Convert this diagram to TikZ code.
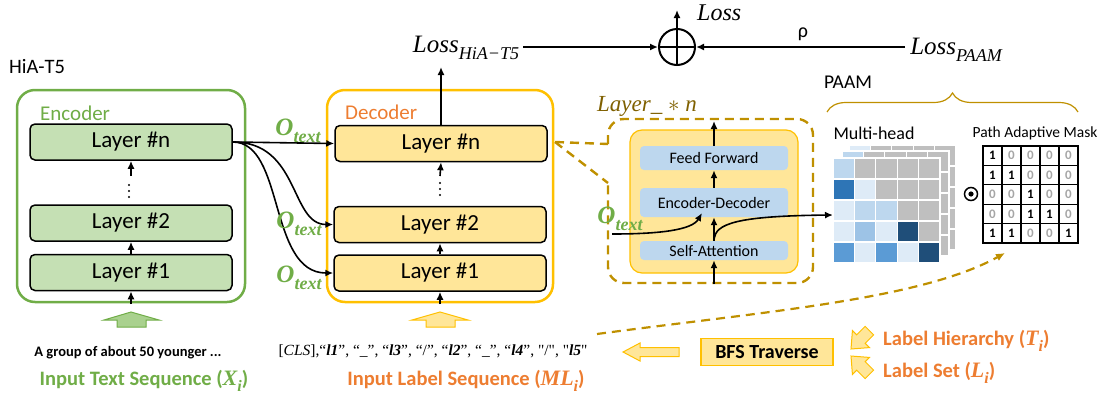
\RequirePackage{fix-cm}
\documentclass[tikz,border=0pt]{standalone}
\usepackage{amsmath}
\usepackage{fontspec}
\setmainfont{Carlito}
\newfontfamily\lsf{Liberation Serif}
\usetikzlibrary{arrows.meta,decorations.pathreplacing}
\definecolor{gEdge}{HTML}{70AD47}
\definecolor{gFill}{HTML}{C5E0B4}
\definecolor{gArrow}{HTML}{A9D18E}
\definecolor{yEdge}{HTML}{FFC000}
\definecolor{yFill}{HTML}{FFE699}
\definecolor{oText}{HTML}{ED7D31}
\definecolor{gold}{HTML}{BF9000}
\definecolor{goldText}{HTML}{7F6000}
\definecolor{bBox}{HTML}{BDD7EE}
\definecolor{mhL}{HTML}{BDD7EE}
\definecolor{mhV}{HTML}{DEEBF7}
\definecolor{mhM}{HTML}{9DC3E6}
\definecolor{mhB}{HTML}{5B9BD5}
\definecolor{mhD}{HTML}{2E75B6}
\definecolor{mhN}{HTML}{1F4E79}
\definecolor{mhG}{HTML}{BFBFBF}
\definecolor{maskZero}{HTML}{A6A6A6}
\newcommand\setfs[1]{\fontsize{#1}{#1}\selectfont}
% italic with subscript: size, subsize, base, sub
\newcommand\msub[4]{{\lsf\itshape\setfs{#1}#3\raisebox{-0.26em}{\setfs{#2}#4}}}
\newcommand\mbsub[4]{{\lsf\bfseries\itshape\setfs{#1}#3\raisebox{-0.26em}{\setfs{#2}#4}}}
\begin{document}
\begin{tikzpicture}[x=1pt,y=-1pt,
  layerE/.style={draw=black, line width=1.5pt, fill=gFill, rounded corners=5pt, minimum width=202pt, minimum height=36pt, inner sep=0pt, font=\setfs{23}},
  layerD/.style={layerE, fill=yFill, minimum width=212pt},
  arr/.style={line width=1.6pt, -{Latex[length=8pt,width=7pt]}},
  lbl/.style={inner sep=0pt},
  otext/.style={inner sep=0pt, text=gEdge},
  gdash/.style={draw=gold, line width=2.4pt, dash pattern=on 9pt off 6pt},
  subbox/.style={fill=bBox, rounded corners=4pt, minimum width=148pt, inner sep=0pt, font=\setfs{16}},
  blockY/.style={fill=yFill, draw=yEdge, line width=1pt},
  blockG/.style={fill=gArrow, draw=gEdge, line width=1pt},
  cellM/.style={draw=black, line width=1.3pt, minimum width=19pt, minimum height=19.4pt, inner sep=0pt, font=\bfseries\setfs{13}},
  cell0/.style={text=maskZero},
  cell1/.style={text=black}]
\useasboundingbox (0,0) rectangle (1105,394);

% ---------- Encoder ----------
\node[lbl, anchor=west, font=\setfs{20.5}] (hia) at (9,67) {HiA-T5};
\node[draw=gEdge, line width=2.5pt, rounded corners=18pt, minimum width=228pt, minimum height=212pt] (encbox) at (131,196) {};
\node[lbl, anchor=west, text=gEdge, font=\setfs{21}] (enclab) at (40,113) {Encoder};
\node[layerE] (en) at (131,142) {Layer \#n};
\node[layerE] (e2) at (131,223) {Layer \#2};
\node[layerE] (e1) at (131,272.5) {Layer \#1};
\coordinate (eDot) at (131,176);
\coordinate (eIn) at (131,304);
\draw[arr] (eDot) -- (en.south);
\foreach \yy in {185,191,197} \fill (129,\yy) circle (1.1pt);
\draw[arr] (e1.north) -- (e2.south);
\draw[arr] (eIn) -- (e1.south);

% ---------- Decoder ----------
\node[draw=yEdge, line width=2.5pt, rounded corners=18pt, minimum width=226pt, minimum height=212pt] (decbox) at (440,196) {};
\node[lbl, anchor=west, text=oText, font=\setfs{21}] (declab) at (345,112) {Decoder};
\node[layerD] (dn) at (441,143.5) {Layer \#n};
\node[layerD] (d2) at (440,224.5) {Layer \#2};
\node[layerD] (d1) at (440,273) {Layer \#1};
\coordinate (dDot) at (440,176);
\coordinate (dIn) at (440,304);
\draw[arr] (dDot) -- (dn.south);
\foreach \yy in {183,189,195} \fill (440,\yy) circle (1.1pt);
\draw[arr] (d1.north) -- (d2.south);
\draw[arr] (dIn) -- (d1.south);

% ---------- encoder -> decoder ----------
\draw[arr] (en.east) -- (dn.west);
\draw[arr] (en.east) .. controls (300,142) and (290,224.5) .. (d2.west);
\draw[arr] (en.east) .. controls (285,142) and (268,273) .. (d1.west);
\node[otext] (ot1) at (298,131) {\mbsub{25}{18}{O}{text}};
\node[otext] (ot2) at (299,224) {\mbsub{25}{18}{O}{text}};
\node[otext] (ot3) at (299,278) {\mbsub{25}{18}{O}{text}};

% ---------- Losses ----------
\node[lbl] (lossH) at (466,48) {\msub{25}{18}{Loss}{HiA−T5}};
\coordinate (lossHin) at (441,67);
\draw[arr] (dn.north) -- (lossHin);
\node[circle, draw, line width=2pt, minimum size=36pt, inner sep=0pt] (plus) at (677,47) {};
\draw[line width=2pt] (plus.north) -- (plus.south) (plus.west) -- (plus.east);
\draw[arr] ([xshift=4pt]lossH.east |- plus.west) -- (plus.west);
\coordinate (lossOut) at (677,10);
\draw[arr] (plus.north) -- (lossOut);
\node[lbl, anchor=west, font=\lsf\itshape\setfs{24}] (loss) at (697,13) {Loss};
\node[lbl] (lossP) at (956,50) {\msub{25}{18}{Loss}{PAAM}};
\draw[arr] ([xshift=-5pt]lossP.west |- plus.east) -- (plus.east);
\node[lbl, font=\setfs{20}] (rho) at (803,34) {ρ};

% ---------- zoomed layer ----------
\draw[gdash, rounded corners=16pt] (608,144) -- (608,119) -- (813,119) -- (813,283) -- (608,283) -- (608,183);
\coordinate (callA) at (555,142);
\draw[gdash] (callA) -- (608,144);
\draw[gdash] (callA) -- (608,183);
\node[lbl, anchor=west, text=goldText] (layn) at (597,106) {{\lsf\itshape\setfs{23}Layer\_ $\ast$ n}};
\node[fill=yFill, draw=yEdge, line width=1.2pt, rounded corners=12pt, minimum width=168pt, minimum height=143pt] (inner) at (714,201.5) {};
\node[subbox, minimum height=24pt] (ff) at (714,158) {Feed Forward};
\node[subbox, minimum height=29pt] (ed) at (714,202.5) {Encoder-Decoder};
\node[subbox, minimum height=19pt] (sa) at (714,250.5) {Self-Attention};
\coordinate (ffOut) at (714,121);
\coordinate (saIn) at (714,284);
\draw[arr] (ff.north) -- (ffOut);
\draw[arr] (ed.north) -- (ff.south);
\draw[arr] (sa.north) -- (ed.south);
\draw[arr] (saIn) -- (sa.south);
\node[otext] (ot4) at (620,219) {\mbsub{25}{18}{O}{text}};
\coordinate (otStart) at (612,234);
\coordinate (otEnd) at (702,213);
\draw[arr] (otStart) .. controls (660,234) and (692,230) .. (otEnd);
\coordinate (br) at (714,239);
\coordinate (mhIn) at (833,215);
\draw[arr] (br) .. controls (716,224) and (735,216) .. (mhIn);

% ---------- PAAM ----------
\node[lbl, font=\setfs{19.5}] (paam) at (848,82) {PAAM};
\draw[gold, line width=1.2pt, decorate, decoration={brace, amplitude=19pt}] (827,112) -- (1078,112);
\node[lbl, font=\setfs{18}] (mh) at (874,133) {Multi-head};
\node[lbl, font=\setfs{15.5}] (pam) at (1035,133) {Path Adaptive Mask};
% back layers
\foreach \ox/\oy/\tl in {849/145/mhV, 842/151/mhL} {
  \foreach \rr in {0,...,4} \foreach \cc in {0,...,4}
    \filldraw[fill=mhG, draw=white, line width=1.2pt] ({\ox+21.4*\cc},{\oy+21*\rr}) rectangle ++(21.4,21);
  \filldraw[fill=\tl, draw=white, line width=1.2pt] (\ox,\oy) rectangle ++(21.4,21);
}
% front layer
\foreach \col [count=\i from 0] in {mhL,mhG,mhG,mhG,mhG, mhD,mhV,mhG,mhG,mhG, mhV,mhL,mhL,mhG,mhG, mhV,mhM,mhV,mhN,mhG, mhB,mhV,mhB,mhV,mhN} {
  \pgfmathtruncatemacro\rr{\i/5}
  \pgfmathtruncatemacro\cc{mod(\i,5)}
  \filldraw[fill=\col, draw=white, line width=1.2pt] ({833+21.4*\cc},{158+21*\rr}) rectangle ++(21.4,21);
}
\node[circle, draw, line width=1.5pt, minimum size=13pt, inner sep=0pt] (odot) at (971,194) {};
\fill (odot.center) circle (2.6pt);
\foreach \v [count=\i from 0] in {1,0,0,0,0, 1,1,0,0,0, 0,0,1,0,0, 0,0,1,1,0, 1,1,0,0,1} {
  \pgfmathtruncatemacro\rr{\i/5}
  \pgfmathtruncatemacro\cc{mod(\i,5)}
  \node[cellM, cell\v] (m\i) at ({983+19*(\cc+0.5)},{146+19.4*(\rr+0.5)}) {\v};
}
\draw[line width=2.2pt] (983,146) rectangle (1078,243);

% ---------- dashed link ----------
\coordinate (dStart) at (597,334);
\coordinate (dEnd) at (1005,253);
\draw[gdash, line width=2.2pt, -{Latex[length=9pt,width=8pt]}] (dStart) .. controls (760,312) and (920,300) .. (dEnd);

% ---------- bottom ----------
\draw[blockG] (131,312) -- (159,320) -- (146,320) -- (146,327) -- (117,327) -- (117,320) -- (104,320) -- cycle;
\draw[blockY] (440,312) -- (468,320) -- (455,320) -- (455,327) -- (426,327) -- (426,320) -- (412,320) -- cycle;
\node[lbl, font=\bfseries\setfs{14.5}] (xtext) at (128,353) {A group of about 50 younger ...};
\node[lbl, font=\bfseries\setfs{20.5}, text=gEdge] (xlab) at (144,381) {Input Text Sequence (\mbsub{22}{16}{X}{i})};
\node[lbl, font=\lsf\setfs{15.5}] (mltext) at (433,351) {[\textit{CLS}],“\textbf{\textit{l1}}”, “\_”, “\textbf{\textit{l3}}”, “/”, “\textbf{\textit{l2}}”, “\_”, “\textbf{\textit{l4}}”, "/", "\textbf{\textit{l5}}"};
\node[lbl, font=\bfseries\setfs{20.5}, text=oText] (mllab) at (466,381) {Input Label Sequence (\mbsub{22}{16}{ML}{i})};
\draw[blockY] (623,352) -- (640,343) -- (640,347.5) -- (679,347.5) -- (679,356.5) -- (640,356.5) -- (640,361) -- cycle;
\node[fill=yFill, draw=yEdge, line width=1.2pt, minimum width=132pt, minimum height=27pt, inner sep=0pt, font=\bfseries\setfs{20}] (bfs) at (767,352) {BFS Traverse};
\begin{scope}[shift={(851,349)}, rotate=225]
  \draw[blockY] (0,0) -- (-14,12) -- (-14,6) -- (-26,6) -- (-26,-6) -- (-14,-6) -- (-14,-12) -- cycle;
\end{scope}
\begin{scope}[shift={(851,356)}, rotate=135]
  \draw[blockY] (0,0) -- (-14,12) -- (-14,6) -- (-26,6) -- (-26,-6) -- (-14,-6) -- (-14,-12) -- cycle;
\end{scope}
\node[lbl, anchor=west, text=oText, font=\bfseries\setfs{20.5}] (lh) at (883,341) {Label Hierarchy (\mbsub{22}{16}{T}{i})};
\node[lbl, anchor=west, text=oText, font=\bfseries\setfs{20.5}] (ls) at (883,373) {Label Set (\mbsub{22}{16}{L}{i})};
\end{tikzpicture}
\end{document}
